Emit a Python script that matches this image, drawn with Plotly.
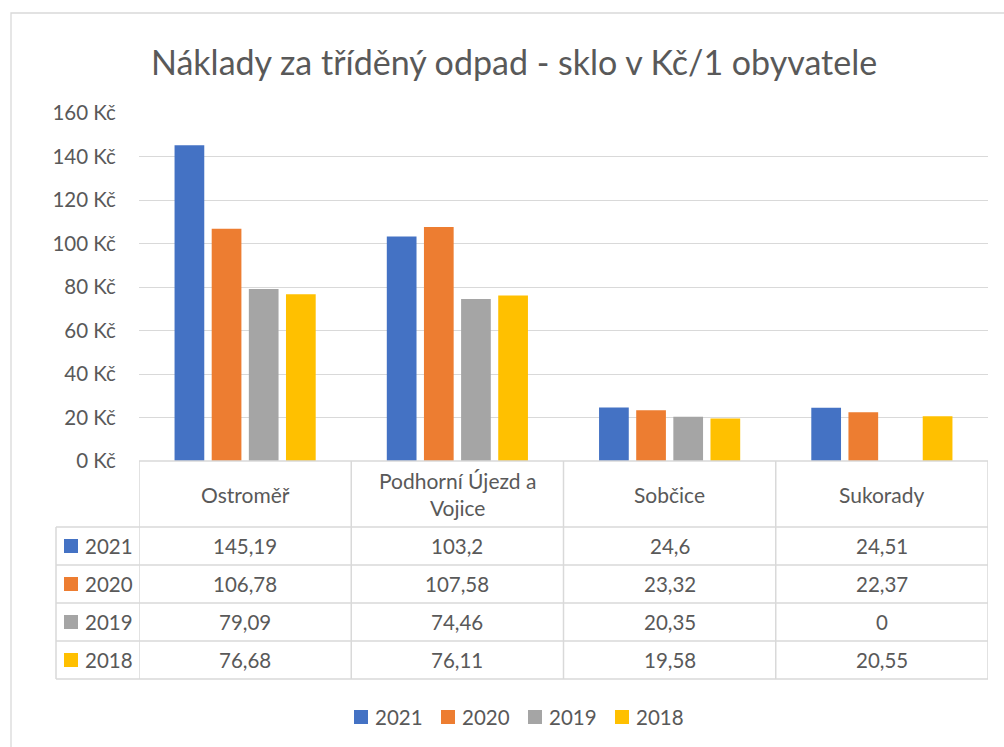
import textwrap
import plotly.graph_objects as go

# ---------------- data ----------------
title_text = "Náklady za tříděný odpad - sklo v Kč/1 obyvatele"
categories = ["Ostroměř", "Podhorní Újezd a Vojice", "Sobčice", "Sukorady"]
years = ["2021", "2020", "2019", "2018"]
v2021 = [145.19, 103.2, 24.6, 24.51]
v2020 = [106.78, 107.58, 23.32, 22.37]
v2019 = [79.09, 74.46, 20.35, 0]
v2018 = [76.68, 76.11, 19.58, 20.55]
series = [v2021, v2020, v2019, v2018]
colors = ["#4472C4", "#ED7D31", "#A5A5A5", "#FFC000"]
y_ticks = [0, 20, 40, 60, 80, 100, 120, 140, 160]
y_tick_labels = [f"{t} Kč" for t in y_ticks]

# ---------------- layout geometry ----------------
W, H = 1004, 747
L, R, T, B = 139, 16, 113, 286
PW = W - L - R
PH = H - T - B
FONT = "Lato"
TXT = "#595959"
GRID = "#D9D9D9"


def px(x):
    return (x - L) / PW


def py(y):
    return (H - B - y) / PH


def fmt(v):
    return f"{v:g}".replace(".", ",")


fig = go.Figure()
for name, vals, col in zip(years, series, colors):
    fig.add_trace(go.Bar(x=categories, y=vals, name=name, marker=dict(color=col, line=dict(width=0)),
                         showlegend=False))

shapes = []
annotations = []

# outer chart border
shapes.append(dict(type="rect", xref="paper", yref="paper", x0=px(11), x1=px(1010), y0=py(13), y1=py(760),
                   line=dict(color=GRID, width=1.3), fillcolor="rgba(0,0,0,0)", layer="below"))

# title
annotations.append(dict(text=title_text, xref="paper", yref="paper", x=px(514), y=py(61), showarrow=False,
                        xanchor="center", yanchor="middle", font=dict(family=FONT, size=34, color=TXT)))

# data table
row_tops = [527, 565, 603, 641, 679]
line_style = dict(color=GRID, width=1.5)
shapes.append(dict(type="line", xref="paper", yref="paper", x0=0, x1=1, y0=py(461), y1=py(461), line=line_style))
for yy in row_tops:
    shapes.append(dict(type="line", xref="paper", yref="paper", x0=px(56), x1=1, y0=py(yy), y1=py(yy), line=line_style))
for i in range(len(categories) + 1):
    shapes.append(dict(type="line", xref="x", yref="paper", x0=i - 0.5, x1=i - 0.5, y0=py(461), y1=py(679),
                       line=line_style))
shapes.append(dict(type="line", xref="paper", yref="paper", x0=px(56), x1=px(56), y0=py(527), y1=py(679),
                   line=line_style))

# header labels
for i, cat in enumerate(categories):
    annotations.append(dict(text="<br>".join(textwrap.wrap(cat, 16)), xref="x", yref="paper", x=i, y=py(494),
                            showarrow=False, xanchor="center", yanchor="middle",
                            font=dict(family=FONT, size=21, color=TXT)))

# rows
for r, (name, vals, col) in enumerate(zip(years, series, colors)):
    yc = (row_tops[r] + row_tops[r + 1]) / 2
    shapes.append(dict(type="rect", xref="paper", yref="paper", x0=px(64), x1=px(78), y0=py(yc - 7), y1=py(yc + 7),
                       fillcolor=col, line=dict(width=0)))
    annotations.append(dict(text=name, xref="paper", yref="paper", x=px(83), y=py(yc), showarrow=False,
                            xanchor="left", yanchor="middle", font=dict(family=FONT, size=20.5, color=TXT)))
    for i, v in enumerate(vals):
        annotations.append(dict(text=fmt(v), xref="x", yref="paper", x=i, y=py(yc), showarrow=False,
                                xanchor="center", yanchor="middle", font=dict(family=FONT, size=20.5, color=TXT)))

# legend (manual)
for k, (name, col) in enumerate(zip(years, colors)):
    x0 = 354 + k * 87
    shapes.append(dict(type="rect", xref="paper", yref="paper", x0=px(x0), x1=px(x0 + 14), y0=py(710), y1=py(724),
                       fillcolor=col, line=dict(width=0)))
    annotations.append(dict(text=name, xref="paper", yref="paper", x=px(x0 + 19), y=py(717), showarrow=False,
                            xanchor="left", yanchor="middle", font=dict(family=FONT, size=20.5, color=TXT)))

fig.update_layout(
    width=W, height=H,
    margin=dict(l=L, r=R, t=T, b=B),
    paper_bgcolor="white", plot_bgcolor="white",
    barmode="group", bargap=0.3, bargroupgap=0.2,
    font=dict(family=FONT, size=20, color=TXT),
    xaxis=dict(showticklabels=False, showgrid=False, zeroline=False, showline=False, ticks="",
               range=[-0.5, len(categories) - 0.5], fixedrange=True),
    yaxis=dict(range=[0, 160], tickvals=y_ticks, ticktext=y_tick_labels, showgrid=True, gridcolor=GRID,
               gridwidth=1.3, zeroline=False, showline=False, ticks="outside", ticklen=18,
               tickcolor="rgba(0,0,0,0)", tickfont=dict(family=FONT, size=20.5, color=TXT), fixedrange=True),
    shapes=shapes,
    annotations=annotations,
)

fig.write_html("out.html", config={"displayModeBar": False},
               post_script="document.body.style.margin='0px';document.body.style.overflow='hidden';")
